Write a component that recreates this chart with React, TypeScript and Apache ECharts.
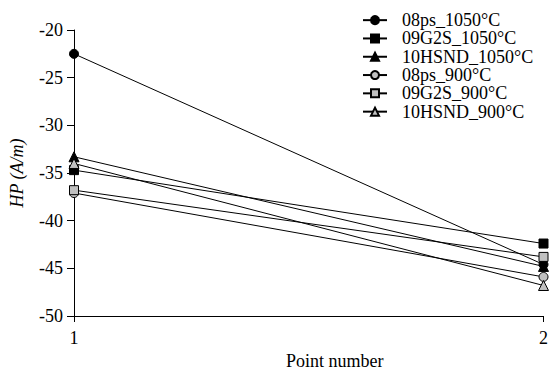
import React, { useEffect, useRef } from "react";
import * as echarts from "echarts";

const pointNumbers = [1, 2];
const seriesNames = [
  "08ps_1050°C",
  "09G2S_1050°C",
  "10HSND_1050°C",
  "08ps_900°C",
  "09G2S_900°C",
  "10HSND_900°C",
];
const ps08_1050 = [-22.5, -44.6];
const g2s09_1050 = [-34.7, -42.4];
const hsnd10_1050 = [-33.3, -44.8];
const ps08_900 = [-37.1, -45.9];
const g2s09_900 = [-36.8, -43.8];
const hsnd10_900 = [-34.0, -46.8];
const seriesValues = [ps08_1050, g2s09_1050, hsnd10_1050, ps08_900, g2s09_900, hsnd10_900];
const symbols = ["circle", "rect", "triangle", "circle", "rect", "triangle"];
const yTicks = { min: -50, max: -20, interval: 5 };

const FONT = "Liberation Serif";
const serifRich = { s: { fontFamily: FONT, fontSize: 18, color: "#000" } };

export default function App() {
  const ref = useRef<HTMLDivElement>(null);
  useEffect(() => {
    document.body.style.margin = "0";
    const chart = echarts.init(ref.current!, null, { renderer: "svg" });
    const series = seriesNames.map((name, i) => {
      const filled = i < 3;
      return {
        name,
        type: "line",
        data: pointNumbers.map((x, j) => [x, seriesValues[i][j]]),
        symbol: symbols[i],
        symbolSize: symbols[i] === "triangle" ? 10 : 9,
        showSymbol: true,
        clip: false,
        lineStyle: { color: "#000", width: 1 },
        itemStyle: {
          color: filled ? "#000" : "#c0c0c0",
          borderColor: "#000",
          borderWidth: 1,
        },
      };
    });
    chart.setOption({
      animation: false,
      backgroundColor: "#fff",
      textStyle: { fontFamily: FONT, color: "#000" },
      grid: { left: 73, right: 6, top: 30, bottom: 56 },
      legend: {
        orient: "vertical",
        left: 357,
        top: 6,
        itemWidth: 24,
        itemHeight: 10,
        itemGap: 0,
        data: seriesNames,
        textStyle: {
          fontFamily: FONT,
          fontSize: 18,
          lineHeight: 18.3,
          color: "#000",
          padding: [0, 0, 0, 10],
        },
      },
      xAxis: {
        type: "value",
        min: 1,
        max: 2,
        interval: 1,
        name: "Point number",
        nameLocation: "middle",
        nameGap: 36,
        nameTextStyle: { fontFamily: FONT, fontSize: 18, color: "#000", padding: [0, 0, 0, 52] },
        axisLine: { onZero: false, lineStyle: { color: "#000", width: 1 } },
        axisTick: { show: true, length: 6, lineStyle: { color: "#000" } },
        axisLabel: {
          fontFamily: FONT,
          fontSize: 18,
          color: "#000",
          margin: 13,
          formatter: (v: number) => `{s|${v}}`,
          rich: serifRich,
        },
        splitLine: { show: false },
      },
      yAxis: {
        type: "value",
        min: yTicks.min,
        max: yTicks.max,
        interval: yTicks.interval,
        name: "HP (A/m)",
        nameLocation: "middle",
        nameGap: 48,
        nameTextStyle: { fontFamily: FONT, fontSize: 18, fontStyle: "italic", color: "#000" },
        axisLine: { show: true, lineStyle: { color: "#000", width: 1 } },
        axisTick: { show: true, length: 7, lineStyle: { color: "#000" } },
        axisLabel: {
          fontFamily: FONT,
          fontSize: 18,
          color: "#000",
          margin: 11,
          formatter: (v: number) => `{s|${v}}`,
          rich: serifRich,
        },
        splitLine: { show: false },
      },
      series,
    });
    return () => chart.dispose();
  }, []);
  return <div ref={ref} style={{ width: 551, height: 375 }} />;
}
